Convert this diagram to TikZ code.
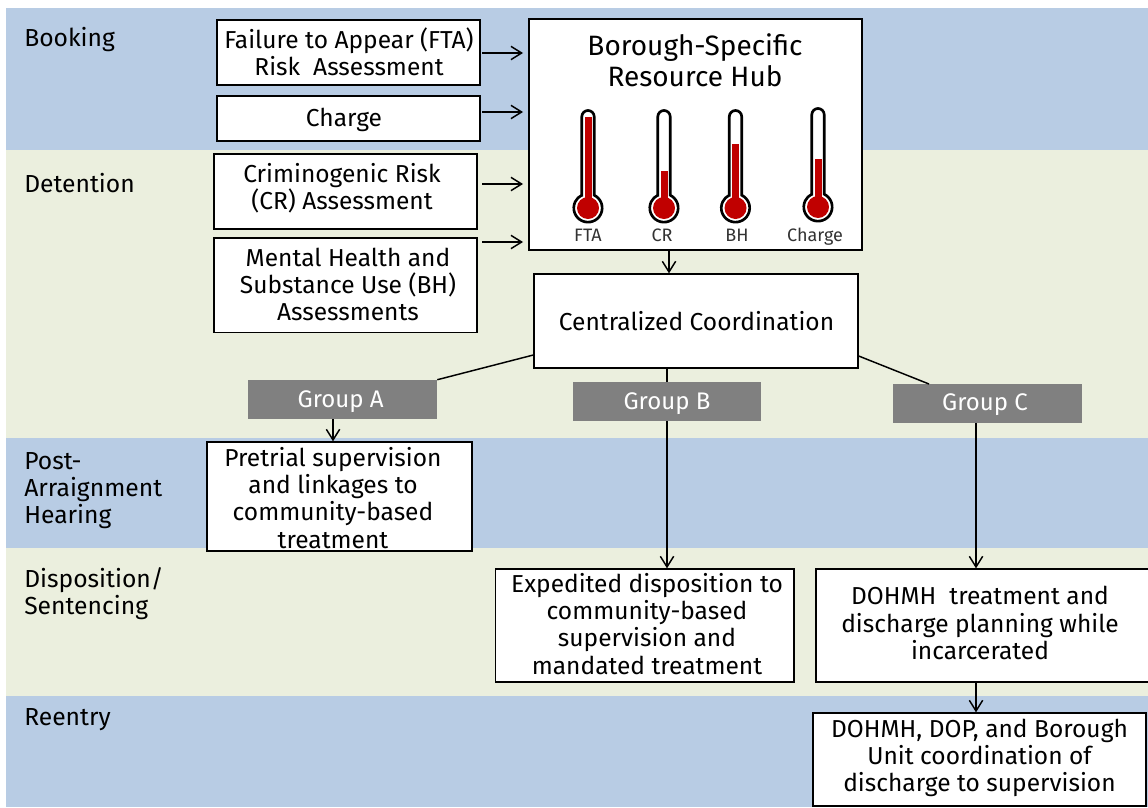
\documentclass[tikz,border=0pt]{standalone}
\usepackage{fontspec}
\setmainfont{Fira Sans}[Scale=1]
\usetikzlibrary{arrows.meta}
\definecolor{bandblue}{HTML}{B8CCE4}
\definecolor{bandgreen}{HTML}{EBEFDE}
\definecolor{groupgray}{HTML}{808080}
\definecolor{mercred}{HTML}{C00000}
\tikzset{
  px/.style={x=0.75pt,y=-0.75pt},
  bluebg/.style={fill=bandblue,draw=none},
  greenbg/.style={fill=bandgreen,draw=none},
  stage/.style={anchor=north west,align=left,font=\fontsize{18.5}{20.3}\selectfont,text=black,inner sep=0pt},
  wbox/.style={draw=black,line width=1pt,fill=white,inner sep=0pt},
  gbox/.style={fill=groupgray,inner sep=0pt},
  btext/.style={align=center,font=\fontsize{18.4}{20.3}\selectfont,text=black,inner sep=0pt},
  gtext/.style={text=white,font=\fontsize{18}{20}\selectfont,inner sep=0pt},
  arr/.style={draw=black,line width=1.1pt,-{Straight Barb[length=8pt,width=10pt,line width=1.1pt]}},
  lnk/.style={draw=black,line width=1.1pt},
  tube/.style={draw=black,line width=2pt,fill=white},
  merc/.style={fill=mercred,draw=none},
  tlabel/.style={anchor=base,font=\fontsize{13.5}{15}\selectfont,text=black!80,inner sep=0pt}
}
\newcommand{\bx}[6][wbox]{% style, name, x1,y1,x2,y2
  \node[#1,minimum width={(#5-#3)*0.75pt},minimum height={(#6-#4)*0.75pt}] (#2) at ({(#3+#5)/2},{(#4+#6)/2}) {};
}
\newcommand{\thermo}[4]{% x, top, mercury top, bubble y
  \draw[tube] (#1-6.2,#4-12.8) -- (#1-6.2,#2+6.2) arc[start angle=180,end angle=360,radius=6.2] -- (#1+6.2,#4-12.8) arc[start angle=-64,end angle=244,radius=14.2] -- cycle;
  \fill[merc] (#1,#4) circle[radius=11];
  \fill[merc] (#1-3.5,#3) rectangle (#1+3.5,#4-5);
}
\begin{document}
\begin{tikzpicture}[px]
\useasboundingbox (0,0) rectangle (1148,807);
\fill[bluebg] (6,8) rectangle (1148,150);
\fill[greenbg] (6,150) rectangle (1148,438);
\fill[bluebg] (6,438) rectangle (1148,548);
\fill[greenbg] (6,548) rectangle (1148,696);
\fill[bluebg] (6,696) rectangle (1148,807);

\node[stage] (s1) at (24,26.5) {Booking};
\node[stage] (s2) at (24,173) {Detention};
\node[stage] (s3) at (24,452) {Post-\\Arraignment\\Hearing};
\node[stage] (s4) at (24,567) {Disposition/\\Sentencing};
\node[stage] (s5) at (24,708.5) {Reentry};

\bx{fta}{217}{20}{480}{85}
\bx{chg}{217}{96}{480}{141}
\bx{cr}{214}{154}{477}{229}
\bx{mh}{214}{238}{477}{332.5}
\bx{hub}{529}{19}{862}{250}
\bx{cc}{534}{274}{858}{368}
\bx[gbox]{ga}{248}{380}{437}{419}
\bx[gbox]{gb}{573}{382}{761}{421}
\bx[gbox]{gc}{893}{384}{1082}{423}
\bx{pre}{207}{442}{472}{551}
\bx{exp}{495.5}{569}{794}{682}
\bx{doh}{816}{569}{1150}{682}
\bx{dop}{813}{713}{1146}{806}

\node[btext] (tfta) at (349,52) {Failure to Appear (FTA)\\Risk\ \ Assessment};
\node[btext] (tchg) at (344,120) {Charge};
\node[btext] (tcr) at (342,188) {Criminogenic Risk\\(CR) Assessment};
\node[btext] (tmh) at (348,284.7) {Mental Health and\\Substance Use (BH)\\Assessments};
\node[btext,font=\fontsize{21}{23.2}\selectfont] (thub) at (695,60) {Borough-Specific\\Resource Hub};
\node[btext] (tcc) at (696.5,321) {Centralized Coordination};
\node[gtext] (tga) at (340.7,401.5) {Group A};
\node[gtext] (tgb) at (667,403.5) {Group B};
\node[gtext] (tgc) at (985,404.5) {Group C};
\node[btext] (tpre) at (333,498) {Pretrial supervision\\and linkages to\\community-based\\treatment};
\node[btext] (texp) at (647,624) {Expedited disposition to\\community-based\\supervision and\\mandated treatment};
\node[btext] (tdoh) at (980,623) {DOHMH\ \ treatment and\\discharge planning while\\incarcerated};
\node[btext] (tdop) at (979.5,757.5) {DOHMH, DOP, and Borough\\Unit coordination of\\discharge to supervision};

\thermo{588}{110.5}{117}{208}
\thermo{664}{110.5}{171}{208}
\thermo{735.5}{110.5}{144}{208}
\thermo{818}{108.5}{159}{207}
\node[tlabel] (l1) at (588,241) {FTA};
\node[tlabel] (l2) at (662,241) {CR};
\node[tlabel] (l3) at (737,241) {BH};
\node[tlabel] (l4) at (815,241) {Charge};

\coordinate (a1s) at (482,53);
\coordinate (a2s) at (482,112);
\coordinate (a3s) at (482,184);
\coordinate (a4s) at (482,242);
\coordinate (a1e) at (523,53);
\coordinate (a2e) at (523,112);
\coordinate (a3e) at (523,184);
\coordinate (a4e) at (523,242);
\draw[arr] (a1s) -- (a1e);
\draw[arr] (a2s) -- (a2e);
\draw[arr] (a3s) -- (a3e);
\draw[arr] (a4s) -- (a4e);

\draw[arr] (hub.south -| 669,0) -- (cc.north -| 669,0);
\draw[lnk] (cc.west |- 0,355) -- (ga.north east);
\draw[lnk] (cc.south -| gb.north) -- (gb.north);
\draw[lnk] (cc.east |- 0,356) -- (929,384);
\draw[arr] (ga.south -| 333,0) -- (pre.north -| 333,0);
\draw[arr] (gb.south) -- (exp.north -| gb.south);
\draw[arr] (gc.south -| 976,0) -- (doh.north -| 976,0);
\draw[arr] (doh.south -| 976,0) -- (dop.north -| 976,0);
\end{tikzpicture}
\end{document}
